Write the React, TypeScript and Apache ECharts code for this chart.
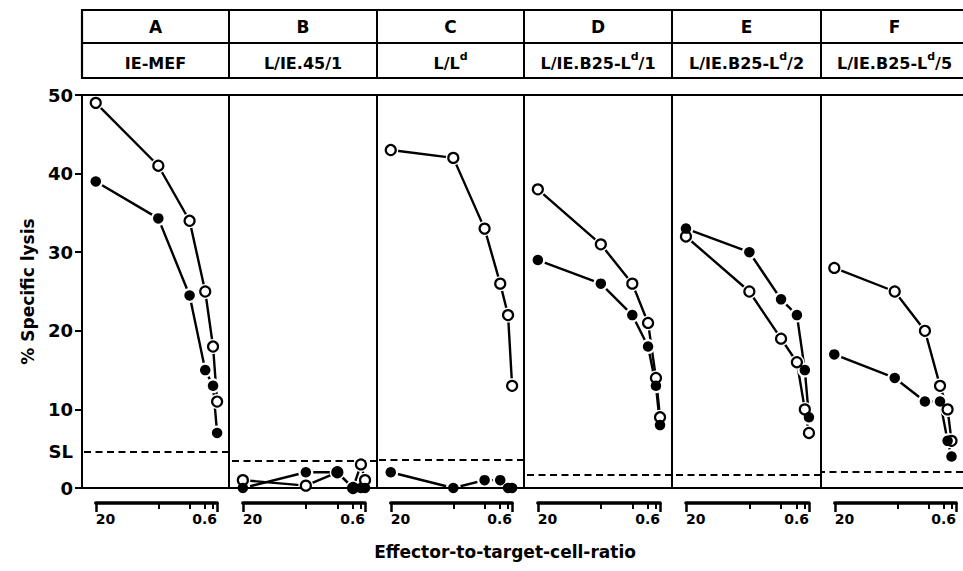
import React, { useEffect, useRef } from "react";
import * as echarts from "echarts";

// ---- data ----
const ratios = [20, 10, 5, 2.5, 1.25, 0.6];
const panelLetters = ["A", "B", "C", "D", "E", "F"];
const targetCells = ["IE-MEF", "L/IE.45/1", "L/L^d", "L/IE.B25-L^d/1", "L/IE.B25-L^d/2", "L/IE.B25-L^d/5"];
const openLysis = [
  [49, 41, 34, 25, 18, 11],
  [1, 0.3, 2, 0, 3, 1],
  [43, 42, 33, 26, 22, 13],
  [38, 31, 26, 21, 14, 9],
  [32, 25, 19, 16, 10, 7],
  [28, 25, 20, 13, 10, 6],
];
const filledLysis = [
  [39, 34.3, 24.5, 15, 13, 7],
  [0, 2, 2, 0, 0, 0],
  [2, 0, 1, 1, 0, 0],
  [29, 26, 22, 18, 13, 8],
  [33, 30, 24, 22, 15, 9],
  [17, 14, 11, 11, 6, 4],
];
const slLevels = [4.6, 3.5, 3.6, 1.7, 1.7, 2.1];
const yTicks = [0, 10, 20, 30, 40, 50];
const xInnerTicks = [10, 5, 2.5, 1.25];
const xEndTicks = [0.6, 20];
const yTitle = "% Specific lysis";
const xTitle = "Effector-to-target-cell-ratio";

// ---- layout ----
const FONT = "'DejaVu Sans', sans-serif";
const PANEL_EDGES = [82, 229, 377, 524, 672, 821, 968];
const PLOT_TOP = 95;
const PLOT_H = 393;
const X_MIN = -1.3;
const X_MAX = 22.2;

function richCell(t: string) {
  const parts = t.split("^d");
  if (parts.length === 1) return `{n|${t}}`;
  return `{n|${parts[0]}}{s|d}{n|${parts[1]}}`;
}

export default function App() {
  const ref = useRef<HTMLDivElement>(null);
  useEffect(() => {
    const chart = echarts.init(ref.current!, null, { renderer: "svg" });
    const grids: any[] = [];
    const xAxes: any[] = [];
    const yAxes: any[] = [];
    const series: any[] = [];
    const graphics: any[] = [];
    const black = "#000";
    const lefts = PANEL_EDGES.slice(0, 6);
    const widths = lefts.map((L, i) => PANEL_EDGES[i + 1] - L);

    panelLetters.forEach((_, i) => {
      const L = lefts[i];
      grids.push({ left: L, top: PLOT_TOP, width: widths[i], height: PLOT_H, show: false });
      xAxes.push({ gridIndex: i, type: "value", min: X_MIN, max: X_MAX, inverse: true, show: false });
      if (i === 0) {
        yAxes.push({
          gridIndex: 0, type: "value", min: 0, max: 50, interval: 10, position: "left",
          axisLine: { show: true, onZero: false, lineStyle: { color: black, width: 2 } },
          axisTick: { show: true, customValues: yTicks, length: 7, lineStyle: { color: black, width: 2 } },
          axisLabel: {
            customValues: [...yTicks, slLevels[0]],
            formatter: (v: number) => (v === slLevels[0] ? "SL" : String(v)),
            color: black, fontFamily: FONT, fontWeight: "bold", fontSize: 18, margin: 9,
          },
          splitLine: { show: false },
          name: yTitle, nameLocation: "middle", nameGap: 46,
          nameTextStyle: { color: black, fontFamily: FONT, fontWeight: "bold", fontSize: 17 },
        });
      } else {
        yAxes.push({ gridIndex: i, type: "value", min: 0, max: 50, show: false, axisLine: { onZero: false } });
      }
    });

    panelLetters.forEach((_, i) => {
      const L = lefts[i];
      const k = widths[i] / (X_MAX - X_MIN);
      const g = 6 + i;
      grids.push({ left: L + (X_MAX - 20) * k, top: 501, width: (20 - 0.6) * k, height: 2, show: false });
      xAxes.push({
        gridIndex: g, type: "value", min: 0.6, max: 20, inverse: true, position: "bottom",
        axisLine: { show: true, onZero: false, lineStyle: { color: black, width: 3.5 } },
        axisTick: { show: true, customValues: xInnerTicks, length: 6, lineStyle: { color: black, width: 2 } },
        axisLabel: {
          customValues: xEndTicks, color: black, fontFamily: FONT, fontWeight: "bold", fontSize: 14, margin: 9,
          alignMinLabel: "right", alignMaxLabel: "left",
        },
        splitLine: { show: false },
      });
      xAxes.push({
        gridIndex: g, type: "value", min: 0.6, max: 20, inverse: true, position: "bottom",
        axisLine: { show: false, onZero: false },
        axisTick: { show: true, customValues: xEndTicks, length: 9, lineStyle: { color: black, width: 2.5 } },
        axisLabel: { show: false },
        splitLine: { show: false },
      });
      yAxes.push({ gridIndex: g, type: "value", min: 0, max: 1, show: false });
    });

    panelLetters.forEach((_, i) => {
      const openData = ratios.map((r, j) => [r, openLysis[i][j]]);
      const filledData = ratios.map((r, j) => [r, filledLysis[i][j]]);
      const lineCommon = {
        type: "line", xAxisIndex: i, yAxisIndex: i, showSymbol: false, symbol: "none",
        lineStyle: { color: black, width: 2.4 }, z: 2, silent: true,
      };
      series.push({
        ...lineCommon, name: `open-${i}`, data: openData,
        markLine: {
          symbol: "none", silent: true, label: { show: false },
          lineStyle: { type: [7, 4.5], color: black, width: 2 },
          data: [{ yAxis: slLevels[i] }],
        },
      });
      series.push({ ...lineCommon, name: `filled-${i}`, data: filledData });
      series.push({
        type: "scatter", xAxisIndex: i, yAxisIndex: i, data: [...openData, ...filledData],
        symbol: "circle", symbolSize: 15, itemStyle: { color: "#fff", opacity: 1 }, z: 3, silent: true,
      });
      series.push({
        type: "scatter", xAxisIndex: i, yAxisIndex: i, data: openData,
        symbol: "circle", symbolSize: 10,
        itemStyle: { color: "#fff", borderColor: black, borderWidth: 2.2, opacity: 1 },
        z: 5, silent: true,
      });
      series.push({
        type: "scatter", xAxisIndex: i, yAxisIndex: i, data: filledData,
        symbol: "circle", symbolSize: 10.5, itemStyle: { color: black, opacity: 1 }, z: 5, silent: true,
      });
    });

    // panel borders
    lefts.forEach((L, i) => {
      graphics.push({
        type: "rect", z: 4, silent: true,
        shape: { x: L, y: PLOT_TOP, width: widths[i], height: PLOT_H },
        style: { fill: "none", stroke: black, lineWidth: 2 },
      });
    });
    // header table
    graphics.push({
      type: "rect", z: 4, silent: true,
      shape: { x: 82, y: 10, width: 900, height: 68 },
      style: { fill: "none", stroke: black, lineWidth: 2.2 },
    });
    graphics.push({
      type: "line", z: 4, silent: true,
      shape: { x1: 82, y1: 43, x2: 990, y2: 43 },
      style: { stroke: black, lineWidth: 2 },
    });
    lefts.slice(1).forEach((L) => {
      graphics.push({
        type: "line", z: 4, silent: true,
        shape: { x1: L, y1: 10, x2: L, y2: 78 },
        style: { stroke: black, lineWidth: 2 },
      });
    });
    panelLetters.forEach((letter, i) => {
      const cx = lefts[i] + widths[i] / 2;
      graphics.push({
        type: "text", z: 4, silent: true, x: cx, y: 27,
        style: { text: letter, fill: black, fontFamily: FONT, fontWeight: "bold", fontSize: 17, align: "center", verticalAlign: "middle" },
      });
      graphics.push({
        type: "text", z: 4, silent: true, x: cx, y: 61,
        style: {
          text: richCell(targetCells[i]), fill: black, align: "center", verticalAlign: "middle",
          rich: {
            n: { fontFamily: FONT, fontWeight: "bold", fontSize: 16, lineHeight: 20, verticalAlign: "bottom", fill: black },
            s: { fontFamily: FONT, fontWeight: "bold", fontSize: 11, lineHeight: 12, verticalAlign: "top", fill: black },
          },
        },
      });
    });
    graphics.push({
      type: "text", z: 4, silent: true, x: 505, y: 552,
      style: { text: xTitle, fill: black, fontFamily: FONT, fontWeight: "bold", fontSize: 17, align: "center", verticalAlign: "middle" },
    });

    chart.setOption({
      animation: false,
      backgroundColor: "#fff",
      grid: grids,
      xAxis: xAxes,
      yAxis: yAxes,
      series,
      graphic: graphics,
    });
    return () => chart.dispose();
  }, []);
  return <div ref={ref} style={{ position: "fixed", left: 0, top: 0, width: 963, height: 571 }} />;
}
